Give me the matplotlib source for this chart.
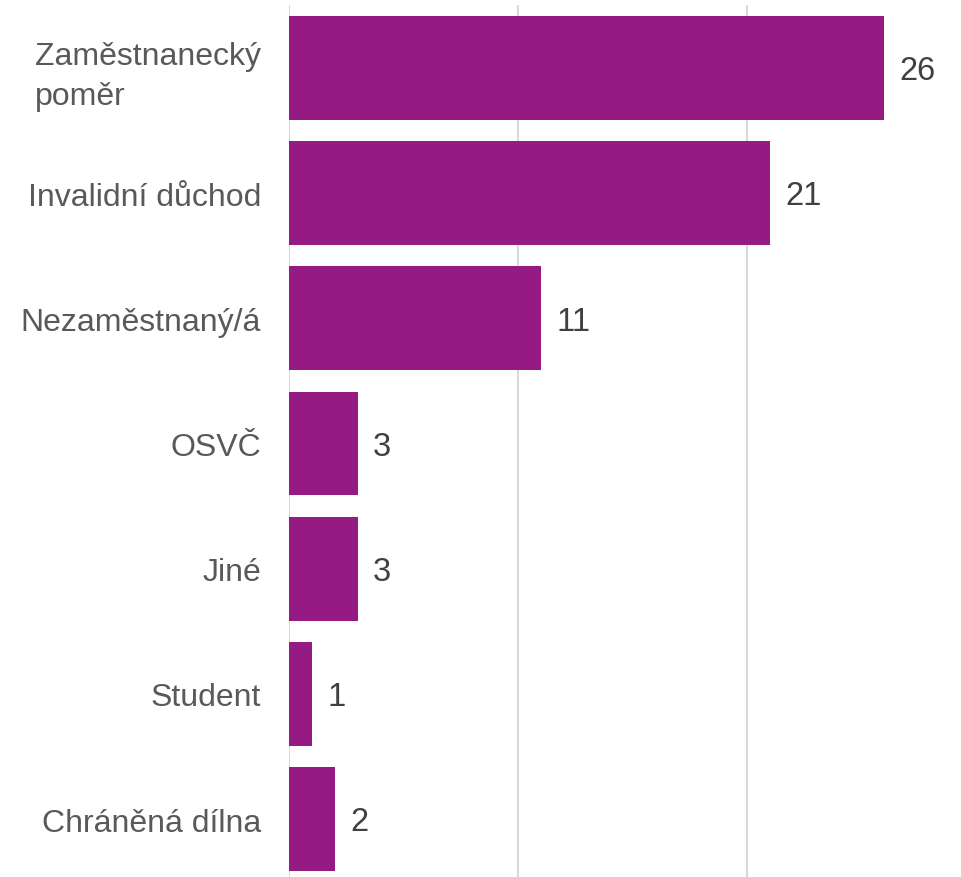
import matplotlib.pyplot as plt
from matplotlib import rcParams

rcParams['font.family'] = ['Liberation Sans', 'DejaVu Sans']

#####################################

categories = ["Zaměstnanecký\npoměr", "Invalidní důchod", "Nezaměstnaný/á",
              "OSVČ", "Jiné", "Student", "Chráněná dílna"]
values = [26, 21, 11, 3, 3, 1, 2]

cBAR = "#951A81"
cGRID = "#D9D9D9"

####################################

fig = plt.figure(figsize=(9.61, 8.78), dpi=100)
ax = fig.add_axes([289 / 961, 0, (960 - 289) / 961, 872 / 878])

pos = list(range(len(categories)))
ax.barh(pos, values, height=0.83, color=cBAR, zorder=3)

for y, v in zip(pos, values):
    ax.annotate(str(v), (v, y), xytext=(11, -2), textcoords="offset points",
                ha="left", va="center", fontsize=23.5, color="#404040")

ax.set_yticks(pos)
ax.set_yticklabels(categories, fontsize=23, color="#595959", linespacing=1.4)
for t in ax.get_yticklabels():
    t.set_multialignment("left")
ax.tick_params(axis="y", length=0, pad=20)
ax.tick_params(axis="x", length=0, labelbottom=False)

ax.set_xticks([0, 10, 20])
ax.grid(axis="x", color=cGRID, linewidth=1.5, zorder=0)
for s in ax.spines.values():
    s.set_visible(False)

ax.set_xlim(0, (960 - 289) / 22.9)
ax.set_ylim(6.463, -0.503)

fig.savefig("out.png", dpi=100)
